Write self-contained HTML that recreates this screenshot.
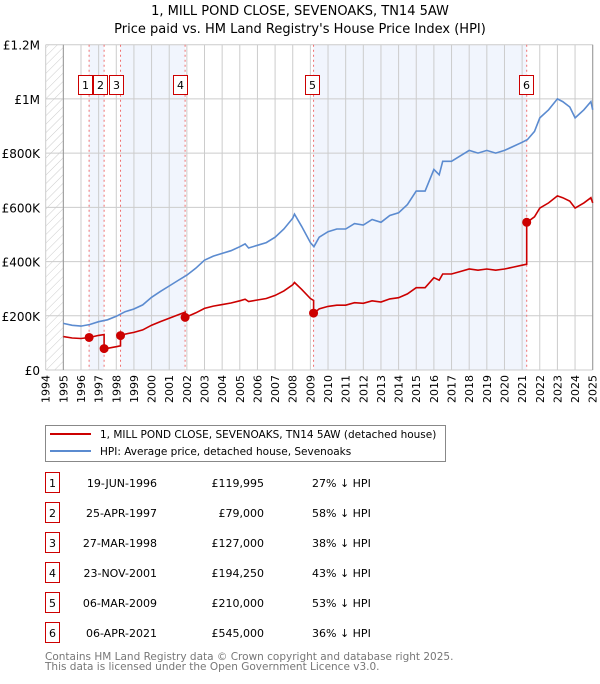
<!DOCTYPE html>
<html><head><meta charset="utf-8">
<style>
body{margin:0;background:#fff;width:600px;height:680px;overflow:hidden;font-family:"DejaVu Sans","Liberation Sans",sans-serif;}
svg text{font-family:"DejaVu Sans","Liberation Sans",sans-serif;}
</style></head>
<body>
<svg id="chart" width="600" height="680" xmlns="http://www.w3.org/2000/svg">
<defs>
<pattern id="hatch" width="6" height="6" patternUnits="userSpaceOnUse" patternTransform="rotate(45)">
<line x1="0" y1="0" x2="0" y2="6" stroke="#ccc" stroke-width="1"/>
</pattern>
</defs>
<text x="300" y="15" text-anchor="middle" font-size="13">1, MILL POND CLOSE, SEVENOAKS, TN14 5AW</text>
<text x="300" y="33" text-anchor="middle" font-size="13">Price paid vs. HM Land Registry's House Price Index (HPI)</text>
<g id="plot"></g>
<g>
<rect x="45.5" y="425.5" width="400" height="36" fill="#fff" stroke="#888"/>
<line x1="50" y1="434" x2="91" y2="434" stroke="#cc0000" stroke-width="2"/>
<text x="100" y="438" font-size="10.5">1, MILL POND CLOSE, SEVENOAKS, TN14 5AW (detached house)</text>
<line x1="50" y1="451" x2="91" y2="451" stroke="#5b8bd0" stroke-width="2"/>
<text x="100" y="455" font-size="10.5">HPI: Average price, detached house, Sevenoaks</text>
</g>
<g id="table"></g>
<text x="45" y="660" font-size="10.5" fill="#777">Contains HM Land Registry data © Crown copyright and database right 2025.</text>
<text x="45" y="670" font-size="10.5" fill="#777">This data is licensed under the Open Government Licence v3.0.</text>
</svg>
<script>
const hpiT=[1995,1995.5,1996,1996.5,1997,1997.5,1998,1998.5,1999,1999.5,2000,2000.5,2001,2001.5,2002,2002.5,2003,2003.5,2004,2004.5,2005,2005.3,2005.5,2006,2006.5,2007,2007.5,2008,2008.1,2008.5,2009,2009.2,2009.5,2010,2010.5,2011,2011.5,2012,2012.5,2013,2013.5,2014,2014.5,2015,2015.5,2016,2016.3,2016.5,2017,2017.5,2018,2018.5,2019,2019.5,2020,2020.5,2021,2021.3,2021.7,2022,2022.5,2023,2023.3,2023.7,2024,2024.5,2024.9,2025];
const hpiV=[172,165,162,168,178,185,198,215,225,240,268,290,310,330,350,375,405,420,430,440,455,465,450,460,470,490,520,560,575,530,470,455,490,510,520,520,540,535,555,545,570,580,610,660,660,740,720,770,770,790,810,800,810,800,810,825,840,850,880,930,960,1000,990,970,930,960,990,960];
const saleT=[1996.46,1997.31,1998.24,2001.9,2009.18,2021.26];
const saleP=[119995,79000,127000,194250,210000,545000];
const saleDates=["19-JUN-1996","25-APR-1997","27-MAR-1998","23-NOV-2001","06-MAR-2009","06-APR-2021"];
const salePriceLabels=["£119,995","£79,000","£127,000","£194,250","£210,000","£545,000"];
const salePct=["27% ↓ HPI","58% ↓ HPI","38% ↓ HPI","43% ↓ HPI","53% ↓ HPI","36% ↓ HPI"];
const yTicks=[0,200000,400000,600000,800000,1000000,1200000];
const yTickLabels=["£0","£200K","£400K","£600K","£800K","£1M","£1.2M"];
const xYears=[1994,1995,1996,1997,1998,1999,2000,2001,2002,2003,2004,2005,2006,2007,2008,2009,2010,2011,2012,2013,2014,2015,2016,2017,2018,2019,2020,2021,2022,2023,2024,2025];

const X0=45.7,X1=592.7,Y0=370,Y1=44.7;
const xs=t=>X0+(t-1994)/31*(X1-X0);
const ys=v=>Y0-v/1200000*(Y0-Y1);
const NS="http://www.w3.org/2000/svg";
const plot=document.getElementById('plot');
function mk(tag,at,parent){const e=document.createElementNS(NS,tag);for(const k in at)e.setAttribute(k,at[k]);(parent||plot).appendChild(e);return e;}
function hpiAt(t){if(t<=hpiT[0])return hpiV[0];for(let i=1;i<hpiT.length;i++){if(t<=hpiT[i]){const f=(t-hpiT[i-1])/(hpiT[i]-hpiT[i-1]);return hpiV[i-1]+f*(hpiV[i]-hpiV[i-1]);}}return hpiV[hpiV.length-1];}

let e=mk('rect',{x:X0,y:Y1,width:xs(1995)-X0,height:Y0-Y1,fill:'url(#hatch)'});


[[0,1],[2,3],[4,5]].forEach(p=>{
 const b=mk('rect',{x:xs(saleT[p[0]]),y:Y1,width:xs(saleT[p[1]])-xs(saleT[p[0]]),height:Y0-Y1,fill:'#eef3fc',opacity:0.8});
 
 
});
xYears.forEach(y=>{
 const l=mk('line',{x1:xs(y),x2:xs(y),y1:Y1,y2:Y0,stroke:'#ccc','stroke-width':1});
 
 
 const tx=xs(y)+4,ty=Y0+5;
 const t=mk('text',{x:tx,y:ty,'font-size':11,'text-anchor':'end',transform:`rotate(-90 ${tx} ${ty})`});
 t.textContent=y;
 
 
});
yTicks.forEach((v,i)=>{
 const l=mk('line',{x1:X0,x2:X1,y1:ys(v),y2:ys(v),stroke:'#ccc','stroke-width':1});
 
 
 const t=mk('text',{x:40,y:ys(v)+5,'font-size':12,'text-anchor':'end'});
 t.textContent=yTickLabels[i];
 
 
});
e=mk('line',{x1:xs(1995),x2:xs(1995),y1:Y1,y2:Y0,stroke:'#999'});


e=mk('line',{x1:X1,x2:X1,y1:Y1,y2:Y0,stroke:'#999'});


saleT.forEach(t=>{
 const l=mk('line',{x1:xs(t),x2:xs(t),y1:Y1,y2:Y0,stroke:'#f07070','stroke-dasharray':'2,3'});
 
 
});
let d=hpiT.map((t,i)=>(i?'L':'M')+xs(t).toFixed(1)+','+ys(hpiV[i]*1000).toFixed(1)).join('');
e=mk('path',{d:d,fill:'none',stroke:'#5b8bd0','stroke-width':1.6});


const pts=[];
function propAt(t){let k=0;for(let i=0;i<saleT.length;i++)if(t>=saleT[i])k=i;return saleP[k]*hpiAt(t)/hpiAt(saleT[k]);}
const times=hpiT.concat(saleT).sort((a,b)=>a-b);
times.forEach(t=>{
 const si=saleT.indexOf(t);
 if(si>0){const prev=saleP[si-1]*hpiAt(t)/hpiAt(saleT[si-1]);pts.push([t,prev]);}
 pts.push([t,propAt(t)]);
});
d=pts.map((p,i)=>(i?'L':'M')+xs(p[0]).toFixed(1)+','+ys(p[1]).toFixed(1)).join('');
e=mk('path',{d:d,fill:'none',stroke:'#cc0000','stroke-width':1.6});


saleT.forEach((t,i)=>{
 const c=mk('circle',{cx:xs(t),cy:ys(saleP[i]),r:4.5,fill:'#cc0000'});
 
 
 const g=mk('g',{});
 
 
 const lx=[85,100,116,180,312,526][i];
 mk('rect',{x:lx-6.5,y:75.5,width:14,height:19,fill:'#fff',stroke:'#cc0000'},g);
 const tt=mk('text',{x:lx+0.5,y:89,'font-size':11,'text-anchor':'middle'},g);
 tt.textContent=i+1;
});
const tb=document.getElementById('table');
saleT.forEach((t,i)=>{
 const cy=483+30*i;
 const r=mk('g',{},tb);
 
 
 mk('rect',{x:45.5,y:cy-10.5,width:14,height:20,fill:'#fff',stroke:'#cc0000'},r);
 let a=mk('text',{x:52.5,y:cy+4,'font-size':11,'text-anchor':'middle'},r);a.textContent=i+1;
 a=mk('text',{x:157,y:cy+4,'font-size':11,'text-anchor':'end'},r);a.textContent=saleDates[i];
 a=mk('text',{x:264,y:cy+4,'font-size':11,'text-anchor':'end'},r);a.textContent=salePriceLabels[i];
 a=mk('text',{x:312,y:cy+4,'font-size':11},r);a.textContent=salePct[i];
});
</script>
</body></html>
